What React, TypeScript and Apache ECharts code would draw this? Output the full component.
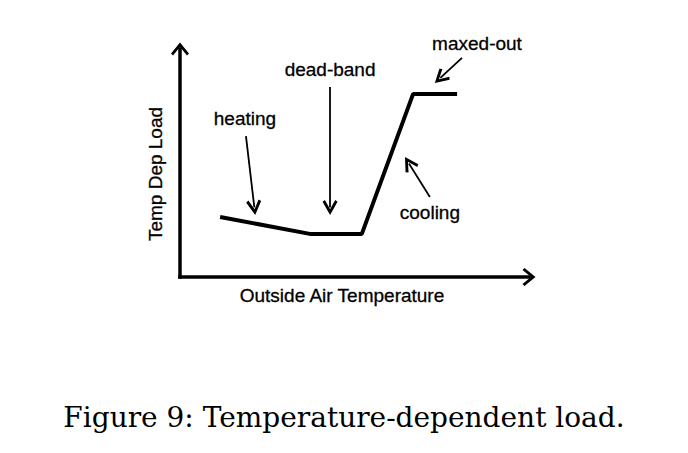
import React, { useEffect, useRef } from 'react';
import * as echarts from 'echarts';

// load curve (x: outside air temperature, y: temp dependent load), 0..100 scale
const curveX = [11.5, 37.2, 52.1, 66.8, 79.4];
const curveY = [26.3, 18.9, 18.9, 80.3, 80.3];

// annotations: label text, label position, arrow start and end
const noteNames = ['heating', 'dead-band', 'maxed-out', 'cooling'];
const noteLabelPos = [
  [18.6, 69.7],
  [43.0, 90.8],
  [85.1, 102.2],
  [71.6, 28.1],
];
const noteArrowFrom = [
  [18.9, 61.8],
  [43.0, 83.3],
  [80.8, 96.1],
  [71.6, 35.1],
];
const noteArrowTo = [
  [21.3, 30.5],
  [43.0, 30.5],
  [74.6, 87.3],
  [65.6, 49.8],
];

const xTitle = 'Outside Air Temperature';
const yTitle = 'Temp Dep Load';
const caption = 'Figure 9: Temperature-dependent load.';

// open chevron heads (pointing up, echarts rotates them)
const axisHead = 'path://M0,0 L9,11 L7,13 L0,4.5 L-7,13 L-9,11 Z';
const noteHead = 'path://M0,0 L8,14 L5.5,16 L0,6 L-5.5,16 L-8,14 Z';

const SANS = 'Liberation Sans, Arial, Helvetica, sans-serif';

// a thin outline in the same colour, so the labels read as dark as the scan
const inkText = { fill: '#000', stroke: '#000', lineWidth: 0.3 };

const App: React.FC = () => {
  const chartRef = useRef<HTMLDivElement>(null);

  useEffect(() => {
    if (!chartRef.current) return;
    document.body.style.margin = '0';
    const chart = echarts.init(chartRef.current, null, { renderer: 'svg' });

    const axisLine = {
      show: true,
      symbol: ['none', axisHead],
      symbolSize: [18, 13],
      lineStyle: { color: '#000', width: 3.5, cap: 'square' },
    };

    chart.setOption({
      animation: false,
      backgroundColor: '#fff',
      grid: { left: 180, top: 49, width: 349, height: 228, containLabel: false },
      xAxis: {
        type: 'value',
        min: 0,
        max: 100,
        axisLine,
        axisTick: { show: false },
        axisLabel: { show: false },
        splitLine: { show: false },
      },
      yAxis: {
        type: 'value',
        min: 0,
        max: 100,
        axisLine,
        axisTick: { show: false },
        axisLabel: { show: false },
        splitLine: { show: false },
      },
      graphic: [
        {
          type: 'text',
          x: 342,
          y: 295,
          style: {
            text: xTitle,
            fontFamily: SANS,
            fontSize: 19,
            ...inkText,
            textAlign: 'center',
            textVerticalAlign: 'middle',
          },
        },
        {
          type: 'text',
          x: 155,
          y: 174,
          rotation: Math.PI / 2,
          style: {
            text: yTitle,
            fontFamily: SANS,
            fontSize: 19,
            ...inkText,
            textAlign: 'center',
            textVerticalAlign: 'middle',
          },
        },
        {
          type: 'text',
          x: 344,
          y: 417,
          style: {
            text: caption,
            fontFamily: 'DejaVu Serif, Liberation Serif, serif',
            fontSize: 28,
            fill: '#000',
            textAlign: 'center',
            textVerticalAlign: 'middle',
          },
        },
      ],
      series: [
        {
          type: 'line',
          data: curveX.map((x, i) => [x, curveY[i]]),
          showSymbol: false,
          lineStyle: { color: '#000', width: 4 },
          silent: true,
        },
        {
          type: 'lines',
          coordinateSystem: 'cartesian2d',
          data: noteArrowFrom.map((p, i) => ({ coords: [p, noteArrowTo[i]] })),
          symbol: ['none', noteHead],
          symbolSize: 15,
          lineStyle: { color: '#000', width: 1.8, opacity: 1 },
          silent: true,
        },
        {
          type: 'scatter',
          data: noteNames.map((n, i) => ({ name: n, value: noteLabelPos[i] })),
          symbolSize: 0,
          clip: false,
          silent: true,
          itemStyle: { opacity: 1, color: '#000' },
          label: {
            show: true,
            position: 'inside',
            formatter: '{b}',
            color: '#000',
            opacity: 1,
            textBorderColor: '#000',
            textBorderWidth: 0.3,
            fontFamily: SANS,
            fontSize: 19,
          },
        },
      ],
    });

    return () => {
      chart.dispose();
    };
  }, []);

  return <div ref={chartRef} style={{ width: 688, height: 453 }} />;
};

export default App;
